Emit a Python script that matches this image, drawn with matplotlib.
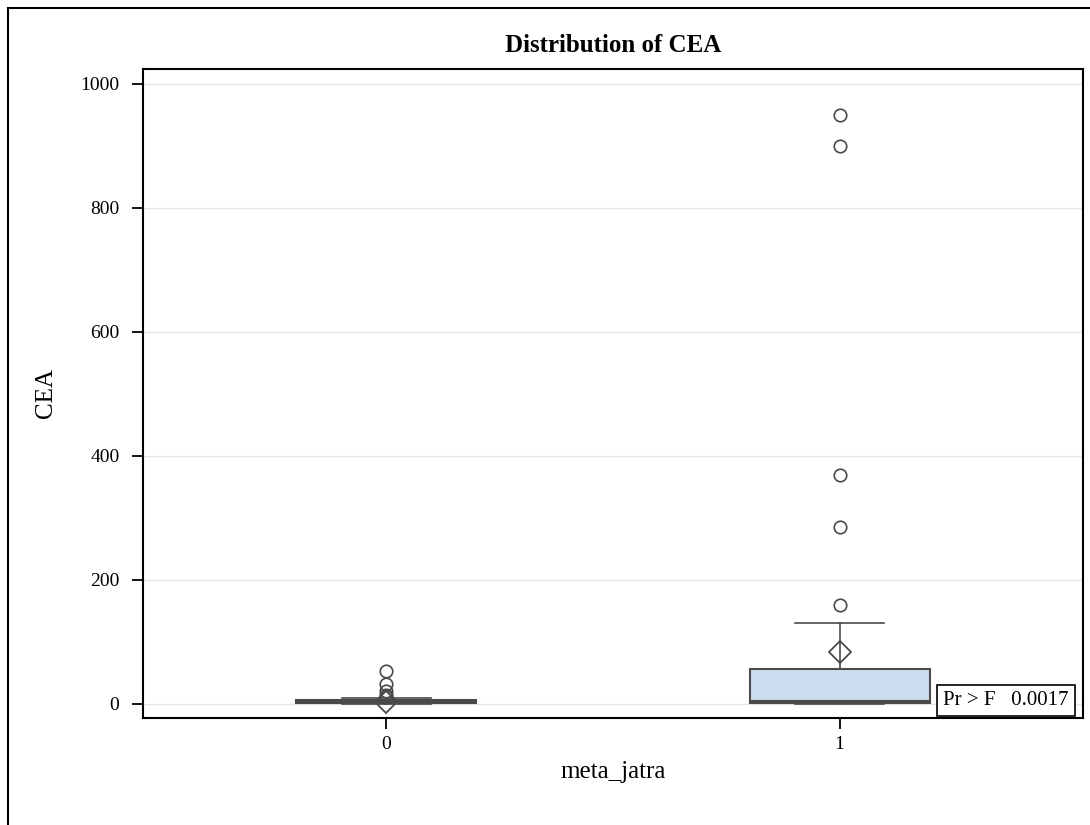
import matplotlib
matplotlib.use("Agg")
import matplotlib.pyplot as plt
from matplotlib.patches import Rectangle

plt.rcParams['font.family'] = ['Liberation Serif', 'DejaVu Serif']

# box statistics
groups = ['0', '1']
whislo = [0, 0.5]
q1 = [1, 2]
med = [3, 5]
q3 = [7, 56]
whishi = [10, 131]
means = [3, 84]
fliers = [[53, 32, 21, 15, 12], [160, 285, 370, 900, 950]]
yticks = [0, 200, 400, 600, 800, 1000]
p_text = 'Pr > F   0.0017'

stats = []
for i, g in enumerate(groups):
    stats.append({'label': g, 'whislo': whislo[i], 'q1': q1[i], 'med': med[i],
                  'q3': q3[i], 'whishi': whishi[i], 'mean': means[i],
                  'fliers': fliers[i]})

fig = plt.figure(figsize=(10.9, 8.25), dpi=100)
ax = fig.add_axes([143/1090, 1 - 718/825, (1083-143)/1090, (718-69)/825])

edge = '#4a4a4a'
ax.bxp(stats, positions=[0, 1], widths=0.397, patch_artist=True,
       showmeans=True, meanline=False,
       boxprops=dict(facecolor='#cbdcee', edgecolor=edge, linewidth=1.5),
       medianprops=dict(color=edge, linewidth=1.5),
       whiskerprops=dict(color=edge, linewidth=1.2),
       capprops=dict(color=edge, linewidth=1.2),
       capwidths=0.195,
       meanprops=dict(marker='D', markerfacecolor='none', markeredgecolor=edge,
                      markersize=11, markeredgewidth=1.3),
       flierprops=dict(marker='o', markerfacecolor='none', markeredgecolor=edge,
                       markersize=9, markeredgewidth=1.2))

ax.set_xlim(-0.537, 1.537)
ax.set_ylim(-22.6, 1024)
ax.set_yticks(yticks)
ax.set_yticklabels([str(t) for t in yticks])
ax.yaxis.grid(True, color='#e6e6e6', linewidth=1)
ax.set_axisbelow(True)
for s in ax.spines.values():
    s.set_linewidth(1.5)
ax.tick_params(axis='both', labelsize=14, length=8, width=1.3, direction='out')
ax.tick_params(axis='x', pad=5)
ax.tick_params(axis='y', pad=9)

ax.set_title('Distribution of CEA', fontsize=18, fontweight='bold', pad=12)
ax.set_xlabel('meta_jatra', fontsize=18, labelpad=6)
ax.set_ylabel('CEA', fontsize=18, labelpad=17)

ax.text(0.985, 0.012, p_text, transform=ax.transAxes, ha='right', va='bottom',
        fontsize=15,
        bbox=dict(boxstyle='square,pad=0.3', facecolor='white', edgecolor='black', linewidth=1.2))

# outer frame of the graph
fig.add_artist(Rectangle((8/1090, -0.05), 1.1, 1 - 8/825 + 0.05, transform=fig.transFigure,
                         fill=False, edgecolor='black', linewidth=1.5))

fig.savefig('out.png', dpi=100)
